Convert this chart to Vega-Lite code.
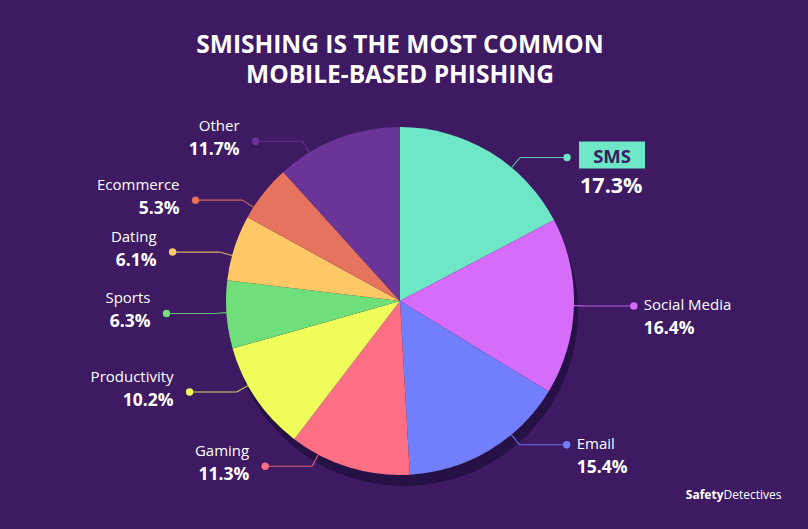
{
  "$schema": "https://vega.github.io/schema/vega-lite/v6.json",
  "width": 800,
  "height": 418,
  "autosize": {"type": "none"},
  "padding": {"left": 0, "top": 92, "right": 8, "bottom": 19},
  "background": "#3d1a62",
  "config": {
    "view": {"stroke": null},
    "font": "Open Sans",
    "axis": {"domain": false, "ticks": false, "labels": false, "grid": false}
  },
  "title": {
    "text": ["SMISHING IS THE MOST COMMON", "MOBILE-BASED PHISHING"],
    "color": "white",
    "fontSize": 24.5,
    "fontWeight": "bold",
    "font": "Open Sans",
    "anchor": "middle",
    "offset": 4,
    "lineHeight": 30
  },
  "data": {
    "values": [
      {"category": "SMS", "value": 17.3},
      {"category": "Social Media", "value": 16.4},
      {"category": "Email", "value": 15.4},
      {"category": "Gaming", "value": 11.3},
      {"category": "Productivity", "value": 10.2},
      {"category": "Sports", "value": 6.3},
      {"category": "Dating", "value": 6.1},
      {"category": "Ecommerce", "value": 5.3},
      {"category": "Other", "value": 11.7}
    ]
  },
  "transform": [
    {"window": [{"op": "row_number", "as": "idx"}, {"op": "sum", "field": "value", "as": "cum"}], "frame": [null, 0]},
    {"joinaggregate": [{"op": "sum", "field": "value", "as": "total"}]},
    {"calculate": "2*PI*(datum.cum - datum.value/2)/datum.total", "as": "mid"},
    {"calculate": "datum.mid < PI ? 1 : -1", "as": "side"},
    {"calculate": "(datum.side > 0 ? PI/2 : 3*PI/2) + (datum.mid - (datum.side > 0 ? PI/2 : 3*PI/2))*0.85", "as": "ang"},
    {"calculate": "sin(datum.ang)", "as": "x0"},
    {"calculate": "cos(datum.ang)", "as": "y0"},
    {"calculate": "1.075*sin(datum.ang)", "as": "x1"},
    {"calculate": "1.075*cos(datum.ang)", "as": "y1"},
    {"calculate": "datum.x1 + datum.side*0.27", "as": "xd"},
    {"calculate": "format(datum.value/100, '.1%')", "as": "pct"}
  ],
  "layer": [
    {
      "mark": {"type": "arc", "radius": 174, "color": "#261146"},
      "encoding": {
        "theta": {"field": "value", "type": "quantitative", "stack": true},
        "order": {"field": "idx", "type": "quantitative"},
        "x": {"datum": 0.023, "type": "quantitative", "title": "Safety"},
        "y": {"datum": -0.063, "type": "quantitative", "title": "Detectives"}
      }
    },
    {
      "mark": {"type": "arc", "radius": 174},
      "encoding": {
        "theta": {"field": "value", "type": "quantitative", "stack": true},
        "order": {"field": "idx", "type": "quantitative"},
        "color": {
          "field": "category",
          "type": "nominal",
          "legend": null,
          "scale": {
            "domain": ["SMS", "Social Media", "Email", "Gaming", "Productivity", "Sports", "Dating", "Ecommerce", "Other"],
            "range": ["#6ee7c7", "#d66dfa", "#727ffc", "#fc6f84", "#effe5a", "#6fdf79", "#ffc867", "#e6735d", "#6b3598"]
          }
        }
      }
    },
    {
      "mark": {"type": "rule", "strokeWidth": 1.1, "opacity": 0.85},
      "encoding": {
        "x": {
          "field": "x0", "type": "quantitative", "title": "Safety",
          "scale": {"domain": [-2.3, 2.3], "nice": false, "zero": false},
          "axis": {"title": "Safety", "domain": false, "ticks": false, "labels": false, "grid": false,
                   "titleColor": "white", "titleFont": "Open Sans", "titleFontWeight": "bold", "titleFontSize": 12,
                   "titleAlign": "right", "titleAnchor": "start", "titleX": 723, "titleY": -12, "titleBaseline": "alphabetic"}
        },
        "y": {
          "field": "y0", "type": "quantitative", "title": "Detectives",
          "scale": {"domain": [-1.2, 1.2], "nice": false, "zero": false},
          "axis": {"orient": "right", "title": "Detectives", "domain": false, "ticks": false, "labels": false, "grid": false,
                   "titleColor": "white", "titleFont": "Open Sans", "titleFontWeight": "normal", "titleFontSize": 12,
                   "titleAngle": 0, "titleAlign": "left", "titleAnchor": "start", "titleX": -77, "titleY": 406, "titleBaseline": "alphabetic"}
        },
        "x2": {"field": "x1"},
        "y2": {"field": "y1"},
        "color": {"field": "category", "type": "nominal", "legend": null}
      }
    },
    {
      "mark": {"type": "rule", "strokeWidth": 1.1, "opacity": 0.85},
      "encoding": {
        "x": {"field": "x1", "type": "quantitative", "title": "Safety"},
        "y": {"field": "y1", "type": "quantitative", "title": "Detectives"},
        "x2": {"field": "xd"},
        "color": {"field": "category", "type": "nominal", "legend": null}
      }
    },
    {
      "mark": {"type": "point", "filled": true, "size": 55, "opacity": 1},
      "encoding": {
        "x": {"field": "xd", "type": "quantitative", "title": "Safety"},
        "y": {"field": "y1", "type": "quantitative", "title": "Detectives"},
        "color": {"field": "category", "type": "nominal", "legend": null}
      }
    },
    {
      "transform": [{"filter": "datum.category !== 'SMS'"}],
      "mark": {
        "type": "text", "font": "Open Sans", "fontSize": 15, "color": "white", "baseline": "alphabetic",
        "align": {"expr": "datum.side > 0 ? 'left' : 'right'"},
        "dx": {"expr": "datum.side > 0 ? 10 : -16"},
        "dy": {"expr": "datum.side > 0 ? 4 : -10"}
      },
      "encoding": {
        "x": {"field": "xd", "type": "quantitative", "title": "Safety"},
        "y": {"field": "y1", "type": "quantitative", "title": "Detectives"},
        "text": {"field": "category"}
      }
    },
    {
      "mark": {
        "type": "text", "font": "Open Sans", "fontWeight": "bold", "color": "white", "baseline": "alphabetic",
        "align": {"expr": "datum.side > 0 ? 'left' : 'right'"},
        "dx": {"expr": "datum.category === 'SMS' ? 13 : (datum.side > 0 ? 10 : -16)"},
        "dy": {"expr": "datum.category === 'SMS' ? 35 : (datum.side > 0 ? 28 : 14)"}
      },
      "encoding": {
        "x": {"field": "xd", "type": "quantitative", "title": "Safety"},
        "y": {"field": "y1", "type": "quantitative", "title": "Detectives"},
        "text": {"field": "pct"},
        "size": {"condition": {"test": "datum.category === 'SMS'", "value": 21.5}, "value": 17.5}
      }
    },
    {
      "transform": [
        {"filter": "datum.category === 'SMS'"},
        {"calculate": "datum.xd + 12/173.9", "as": "bx1"},
        {"calculate": "datum.xd + 78/173.9", "as": "bx2"},
        {"calculate": "datum.y1 + 16/174.2", "as": "by1"},
        {"calculate": "datum.y1 - 11/174.2", "as": "by2"}
      ],
      "mark": {"type": "rect", "color": "#6ee7c7"},
      "encoding": {
        "x": {"field": "bx1", "type": "quantitative", "title": "Safety"},
        "x2": {"field": "bx2"},
        "y": {"field": "by1", "type": "quantitative", "title": "Detectives"},
        "y2": {"field": "by2"}
      }
    },
    {
      "transform": [{"filter": "datum.category === 'SMS'"}],
      "mark": {"type": "text", "font": "Open Sans", "fontWeight": "bold", "fontSize": 18.5, "color": "#3d1a62", "align": "center", "baseline": "alphabetic", "dx": 45, "dy": 5},
      "encoding": {
        "x": {"field": "xd", "type": "quantitative", "title": "Safety"},
        "y": {"field": "y1", "type": "quantitative", "title": "Detectives"},
        "text": {"field": "category"}
      }
    }
  ]
}
